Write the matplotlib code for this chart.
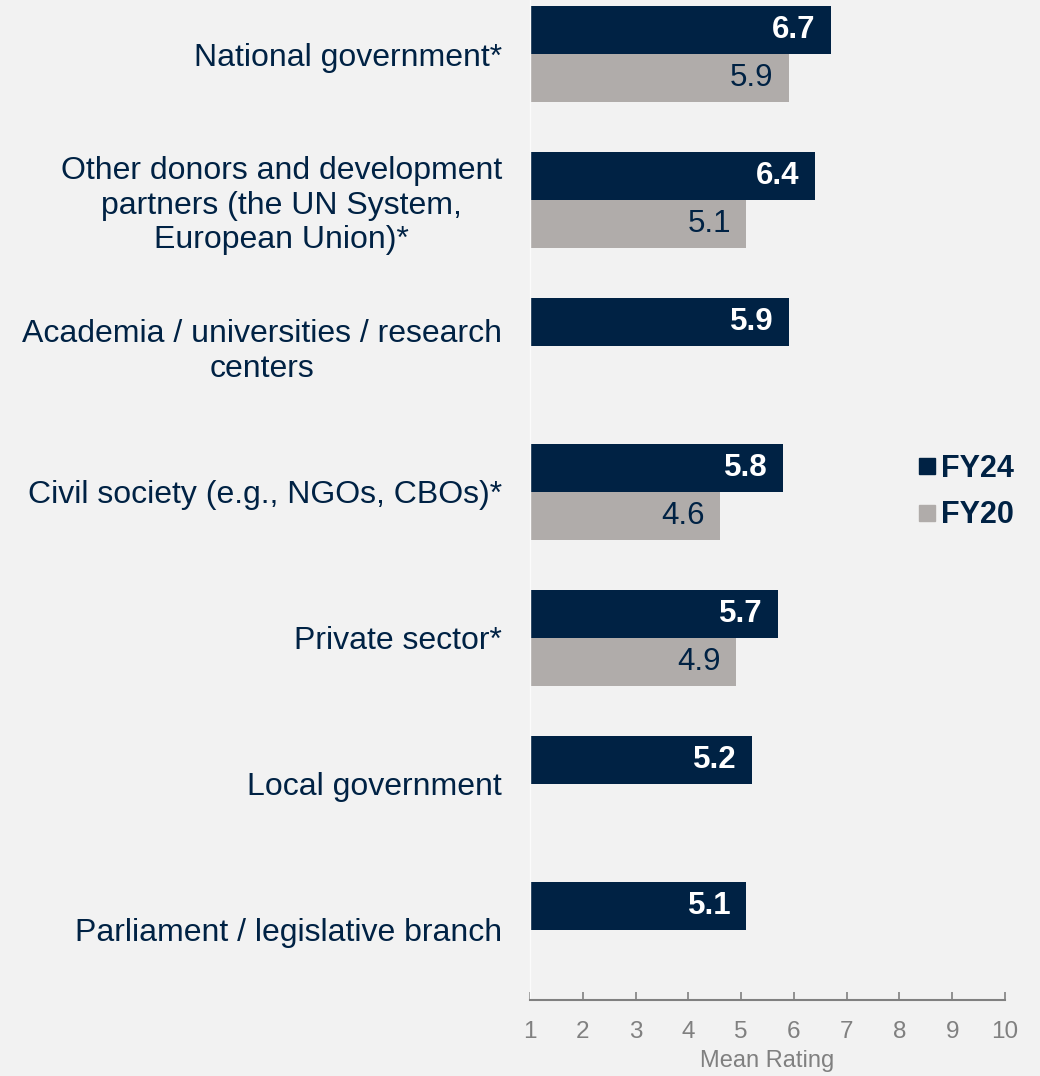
import numpy as np
import matplotlib.pyplot as plt
from matplotlib.lines import Line2D

plt.rcParams['font.family'] = ['Liberation Sans', 'DejaVu Sans']

categories = ['National government*',
              'Other donors and development\npartners (the UN System,\nEuropean Union)*',
              'Academia / universities / research\ncenters',
              'Civil society (e.g., NGOs, CBOs)*',
              'Private sector*',
              'Local government',
              'Parliament / legislative branch']
fy24 = [6.7, 6.4, 5.9, 5.8, 5.7, 5.2, 5.1]
fy20 = [5.9, 5.1, None, 4.6, 4.9, None, None]
x_ticks = [1, 2, 3, 4, 5, 6, 7, 8, 9, 10]

navy = '#002244'
grey = '#b0acaa'
bg = '#f2f2f2'
axis_grey = '#808080'

fig = plt.figure(figsize=(10.4, 10.76), dpi=100, facecolor=bg)
ax = fig.add_axes([530 / 1040, 1 - 1000 / 1076, 475 / 1040, 1000 / 1076])
ax.set_facecolor(bg)

index = np.arange(len(categories))
h = 0.33

ax.barh(index - h / 2, fy24, h, color=navy, label='FY24')
idx20 = [i for i, v in enumerate(fy20) if v is not None]
vals20 = [fy20[i] for i in idx20]
ax.barh(np.array(idx20) + h / 2, vals20, h, color=grey, label='FY20')

for i, v in enumerate(fy24):
    ax.annotate(f'{v:.1f}', (v, i - h / 2), xytext=(-11, 0), textcoords='offset points',
                ha='right', va='center', color='white', fontsize=22.5, fontweight='bold')
for i, v in zip(idx20, vals20):
    ax.annotate(f'{v:.1f}', (v, i + h / 2), xytext=(-11, 0), textcoords='offset points',
                ha='right', va='center', color=navy, fontsize=22.5)

ax.set_xlim(1, 10)
ax.set_ylim(6.48, -0.37)
ax.set_xticks(x_ticks)
ax.set_xticklabels([str(t) for t in x_ticks])
ax.tick_params(axis='x', direction='in', length=6, width=1.2, color=axis_grey,
               labelcolor=axis_grey, labelsize=17.5, pad=15)
ax.set_yticks(index)
ax.set_yticklabels(categories, fontsize=23, color=navy, multialignment='center')
ax.tick_params(axis='y', length=0, pad=20)
ax.set_xlabel('Mean Rating', fontsize=17, color=axis_grey, labelpad=5)

for s in ['top', 'right']:
    ax.spines[s].set_visible(False)
ax.spines['bottom'].set_color(axis_grey)
ax.spines['bottom'].set_linewidth(1.5)
ax.spines['left'].set_color('#fbfbfb')
ax.spines['left'].set_linewidth(1)

handles = [Line2D([], [], marker='s', linestyle='', color=navy, markersize=12),
           Line2D([], [], marker='s', linestyle='', color=grey, markersize=12)]
leg = fig.legend(handles, ['FY24', 'FY20'], loc='center left',
                 bbox_to_anchor=(892 / 1040, 1 - 492 / 1076), frameon=False,
                 prop={'size': 22, 'weight': 'bold'}, handlelength=0.5,
                 handletextpad=0.2, labelspacing=0.55, labelcolor=navy)

fig.savefig('out.png', dpi=100, facecolor=bg)
